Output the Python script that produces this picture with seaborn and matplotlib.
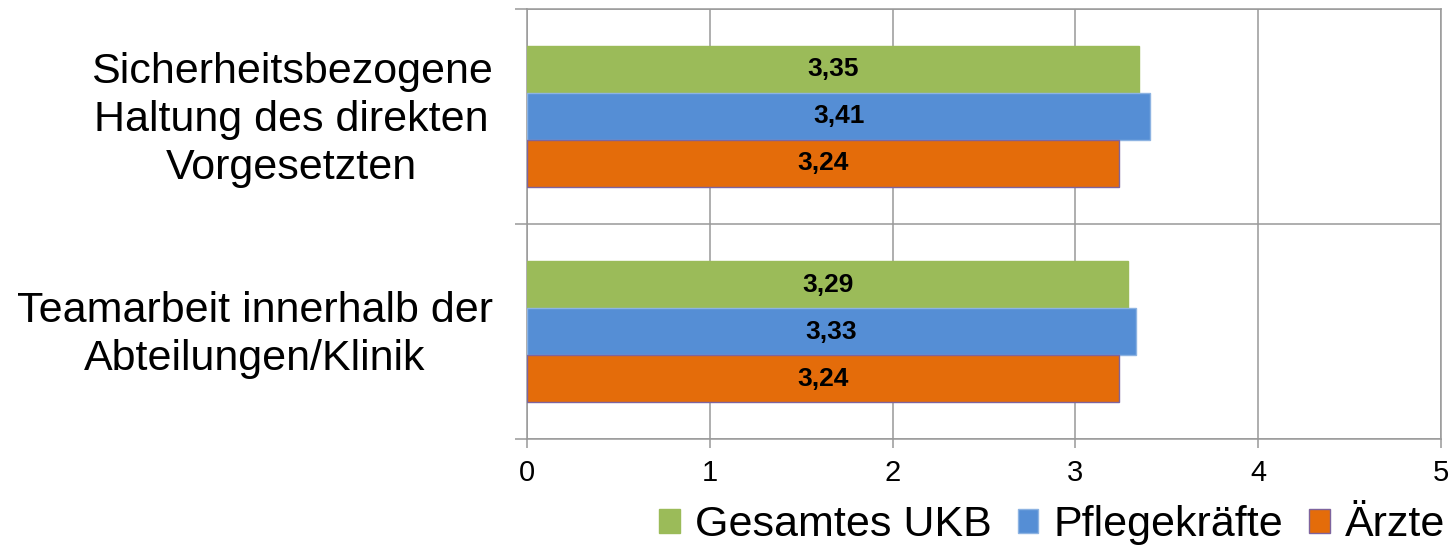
import matplotlib
matplotlib.use("Agg")
import matplotlib.pyplot as plt
import matplotlib.transforms as mtransforms
import seaborn as sns
import pandas as pd
from matplotlib.patches import Patch
from matplotlib.ticker import FixedLocator

categories = ["Sicherheitsbezogene\nHaltung des direkten\nVorgesetzten",
              "Teamarbeit innerhalb der\nAbteilungen/Klinik"]
series = ["Gesamtes UKB", "Pflegekräfte", "Ärzte"]
gesamt = [3.35, 3.29]
pflege = [3.41, 3.33]
aerzte = [3.24, 3.24]
colors = ["#9BBB59", "#558ED5", "#E46C0A"]
edgecolors = ["#9BBB59", "#8DB3E2", "#7E649E"]
xticks = [0, 1, 2, 3, 4, 5]

rows = []
for s, vals in zip(series, [gesamt, pflege, aerzte]):
    for c, v in zip(categories, vals):
        rows.append({"Kategorie": c, "Gruppe": s, "Wert": v})
df = pd.DataFrame(rows)

sns.set_theme(style="white")
plt.rcParams["font.family"] = ["Liberation Sans", "DejaVu Sans"]
plt.rcParams["text.color"] = "black"

W, H = 1455, 551
fig = plt.figure(figsize=(W / 100, H / 100), dpi=100)
x0, x1, ytop, ybot = 527.3, 1440.8, 8.5, 439.3
ax = fig.add_axes([x0 / W, 1 - ybot / H, (x1 - x0) / W, (ybot - ytop) / H])

sns.barplot(data=df, y="Kategorie", x="Wert", hue="Gruppe", order=categories,
            hue_order=series, palette=colors, orient="h", width=0.655,
            saturation=1, ax=ax, legend=False, errorbar=None, zorder=3)

for cont, ec in zip(ax.containers, edgecolors):
    for bar in cont:
        bar.set_edgecolor(ec)
        bar.set_linewidth(1.0)
    labels = [f"{b.get_width():.2f}".replace(".", ",") for b in cont]
    ax.bar_label(cont, labels=labels, label_type="center", fontsize=19,
                 fontweight="bold", color="black", zorder=4)

ax.set_xlim(0, 5)
ax.set_ylim(1.5, -0.5)
ax.set_xticks(xticks)
ax.set_xticklabels([str(t) for t in xticks])
ax.yaxis.set_minor_locator(FixedLocator([-0.5, 0.5, 1.5]))
gc = "#999999"
ax.grid(True, axis="x", which="major", color=gc, linewidth=1.1, zorder=0)
ax.grid(True, axis="y", which="minor", color=gc, linewidth=1.1, zorder=0)
ax.grid(False, axis="y", which="major")
for sp in ax.spines.values():
    sp.set_color(gc)
    sp.set_linewidth(1.1)
ax.set_axisbelow(True)

ax.tick_params(axis="x", which="major", length=6.5, width=1.1, color=gc,
               direction="out", bottom=True, pad=8, labelsize=21, labelcolor="black")
ax.tick_params(axis="y", which="major", length=0, pad=25, labelsize=31,
               labelcolor="black")
ax.tick_params(axis="y", which="minor", length=8.6, width=1.1, color=gc,
               direction="out", left=True)
shift = mtransforms.ScaledTranslation(0, 0.05, fig.dpi_scale_trans)
for lab in ax.get_yticklabels():
    lab.set_multialignment("center")
    lab.set_linespacing(1.26)
    lab.set_transform(lab.get_transform() + shift)
ax.set_xlabel("")
ax.set_ylabel("")

handles = [Patch(facecolor=c, edgecolor=e, label=s) for c, e, s in zip(colors, edgecolors, series)]
leg = fig.legend(handles=handles, loc="center right", bbox_to_anchor=(1445 / W, 1 - 525 / H),
                 ncol=3, frameon=False, fontsize=31, handlelength=0.48, handleheight=0.48,
                 handletextpad=0.35, columnspacing=0.6, borderpad=0, borderaxespad=0)
for t in leg.get_texts():
    t.set_color("black")

fig.savefig("out.png", dpi=100, facecolor="white")
